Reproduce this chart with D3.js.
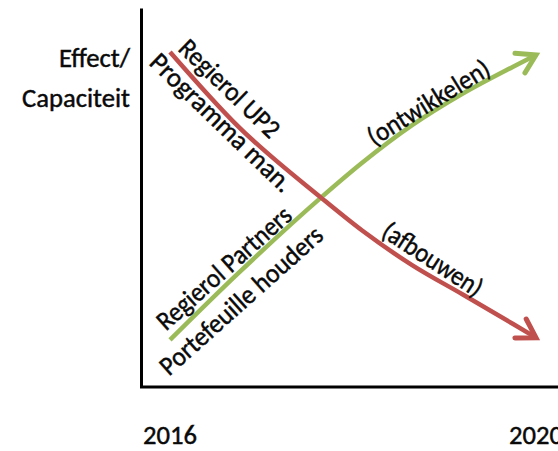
<!DOCTYPE html>
<html>
<head>
<meta charset="utf-8">
<script src="https://cdn.jsdelivr.net/npm/d3@7"></script>
<style>
  html, body { margin: 0; padding: 0; background: #fff; }
  svg { display: block; }
  text { font-family: Carlito, Calibri, Lato, "Open Sans", sans-serif; fill: #0a0a0a; stroke: #0a0a0a; stroke-width: 0.45px; }
</style>
</head>
<body>
<div id="chart"></div>
<script>
// ---- data ----
const years = [2016, 2016.75, 2017.65, 2018.1, 2018.65, 2019.2, 2019.75, 2020];
const regierolUP2 = [88.4, 68.6, 49.9, 41.2, 32.0, 24.3, 16.5, 12.9];      // afbouwen (red)
const regierolPartners = [12.3, 30.0, 49.9, 59.1, 69.1, 77.4, 84.5, 87.6]; // ontwikkelen (green)
const yearTicks = [2016, 2020];
const axisTitle = ["Effect/", "Capaciteit"];
const labelTexts = ["Regierol UP2", "Programma man.", "Regierol Partners", "Portefeuille houders", "(ontwikkelen)", "(afbouwen)"];
const labelYears = [2016.077, 2015.76, 2015.956, 2015.989, 2018.23, 2018.295];
const labelValues = [88.9, 85.2, 14.5, 2.6, 63.4, 39.8];

// ---- layout ----
const W = 558, H = 451;
const svg = d3.select("#chart").append("svg").attr("width", W).attr("height", H);

const x = d3.scaleLinear().domain([2016, 2020]).range([170, 536]);
const y = d3.scaleLinear().domain([0, 100]).range([386.5, 8]);
const axisX = 141;

const defs = svg.append("defs");
function marker(id, color) {
  defs.append("marker")
    .attr("id", id)
    .attr("markerUnits", "userSpaceOnUse")
    .attr("viewBox", "-26 -18 32 36")
    .attr("refX", 0).attr("refY", 0)
    .attr("markerWidth", 32).attr("markerHeight", 36)
    .attr("orient", "auto")
    .append("path")
    .attr("d", "M-18,-11 L0,0 L-18,11")
    .attr("fill", "none")
    .attr("stroke", color)
    .attr("stroke-width", 5)
    .attr("stroke-linejoin", "miter")
    .attr("stroke-linecap", "round");
}
marker("arrRed", "#c0504d");
marker("arrGreen", "#9bbb59");

// axes (frame lines only)
const yAxis = d3.axisLeft(y).tickValues([]).tickSizeOuter(0);
svg.append("g").attr("transform", `translate(${axisX},0)`).call(yAxis)
  .select(".domain").attr("stroke", "#000").attr("stroke-width", 3);

const xFrame = x.copy().domain([x.invert(axisX - 1.5), x.invert(W)]).range([axisX - 1.5, W]);
const xAxis = d3.axisBottom(xFrame).tickValues([]).tickSizeOuter(0);
svg.append("g").attr("transform", `translate(0,${y(0)})`).call(xAxis)
  .select(".domain").attr("stroke", "#000").attr("stroke-width", 3);

// year labels
svg.append("g").selectAll("text").data(yearTicks).join("text")
  .attr("x", d => x(d))
  .attr("y", 444)
  .attr("text-anchor", "middle")
  .attr("font-size", 27)
  .attr("textLength", 54)
  .attr("lengthAdjust", "spacingAndGlyphs")
  .text(d => d3.format("d")(d));

// axis title
const titleLen = [71, 108];
svg.append("g").selectAll("text").data(axisTitle).join("text")
  .attr("x", 130)
  .attr("y", (d, i) => 67 + i * 40)
  .attr("text-anchor", "end")
  .attr("font-size", 27)
  .attr("textLength", (d, i) => titleLen[i])
  .attr("lengthAdjust", "spacingAndGlyphs")
  .text(d => d);

// curves
const line = d3.line().x(d => x(d[0])).y(d => y(d[1])).curve(d3.curveMonotoneX);
svg.append("path")
  .datum(years.map((yr, i) => [yr, regierolPartners[i]]))
  .attr("d", line)
  .attr("fill", "none")
  .attr("stroke", "#9bbb59")
  .attr("stroke-width", 4.5)
  .attr("marker-end", "url(#arrGreen)");
svg.append("path")
  .datum(years.map((yr, i) => [yr, regierolUP2[i]]))
  .attr("d", line)
  .attr("fill", "none")
  .attr("stroke", "#c0504d")
  .attr("stroke-width", 4.5)
  .attr("marker-end", "url(#arrRed)");

// rotated labels
const labelAngles = [44, 44, -41.7, -41.7, -31.7, 32.9];
const labelLens = [129, 187, 171, 209, 139, 114];
svg.append("g").selectAll("text").data(labelTexts).join("text")
  .attr("transform", (d, i) => `translate(${x(labelYears[i])},${y(labelValues[i])}) rotate(${labelAngles[i]})`)
  .attr("font-size", 27)
  .attr("textLength", (d, i) => labelLens[i])
  .attr("lengthAdjust", "spacingAndGlyphs")
  .text(d => d);
</script>
</body>
</html>
